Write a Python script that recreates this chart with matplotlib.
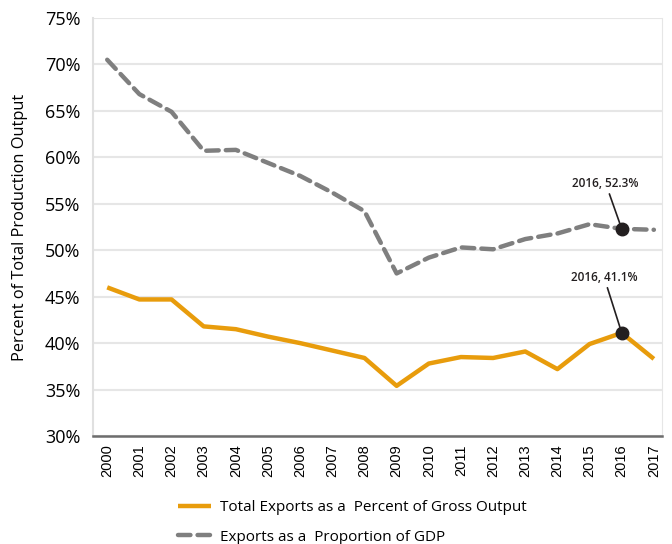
import matplotlib
matplotlib.use('Agg')
import matplotlib.pyplot as plt
from matplotlib.ticker import FuncFormatter

years = list(range(2000, 2018))
gross_output = [46.0, 44.7, 44.7, 41.8, 41.5, 40.7, 40.0, 39.2, 38.4, 35.4,
                37.8, 38.5, 38.4, 39.1, 37.2, 39.9, 41.1, 38.3]
gdp_share = [70.5, 66.8, 64.9, 60.7, 60.8, 59.4, 58.0, 56.2, 54.2, 47.5,
             49.2, 50.3, 50.1, 51.2, 51.8, 52.8, 52.3, 52.2]
labels = ['Total Exports as a  Percent of Gross Output', 'Exports as a  Proportion of GDP']

plt.rcParams['font.family'] = ['Open Sans', 'DejaVu Sans']

fig = plt.figure(figsize=(6.72, 5.44), dpi=100)
ax = fig.add_axes([0.138, 0.1985, 0.847, 0.7685])

ax.plot(years, gross_output, color='#e89c0c', lw=3.2, label=labels[0],
        solid_capstyle='butt', zorder=3)
ax.plot(years, gdp_share, color='#7f7f7f', lw=3.2, ls=(0, (2.8, 1.6)),
        label=labels[1], dash_capstyle='round', zorder=3)

# highlighted 2016 points
i16 = years.index(2016)
for vals, dx, dy in [(gdp_share, -0.5, 4.2), (gross_output, -0.55, 5.3)]:
    y = vals[i16]
    ax.plot(2016, y, 'o', color='#231f20', ms=9, zorder=4)
    ax.annotate('2016, %.1f%%' % y, xy=(2016, y), xytext=(2016 + dx, y + dy),
                ha='center', va='bottom', fontsize=8.5, fontweight='semibold',
                color='#231f20',
                arrowprops=dict(arrowstyle='-', color='#231f20', lw=1.2,
                                shrinkA=1, shrinkB=0))

ax.set_xlim(1999.55, 2017.25)
ax.set_ylim(30, 75)
ax.set_yticks(range(30, 76, 5))
ax.yaxis.set_major_formatter(FuncFormatter(lambda v, p: '%d%%' % v))
ax.set_xticks(years)
ax.set_xticklabels([str(y) for y in years], rotation=90, family='Liberation Sans',
                   fontsize=10.5)
ax.tick_params(axis='y', labelsize=13, length=0, pad=9)
ax.tick_params(axis='x', length=0, pad=6)
ax.grid(axis='y', color='#e6e6e6', lw=1.5)
ax.set_axisbelow(True)
ax.spines['top'].set_visible(False)
ax.spines['right'].set_color('#e6e6e6')
ax.spines['left'].set_color('#e0e0e0')
ax.spines['left'].set_linewidth(1.5)
ax.spines['bottom'].set_color('#6d6d6d')
ax.spines['bottom'].set_linewidth(1.8)
ax.set_ylabel('Percent of Total Production Output', fontsize=11.8, labelpad=12)

fig.legend(loc='upper left', bbox_to_anchor=(0.244, 0.106), frameon=False,
           fontsize=11, handlelength=2.15, handletextpad=0.65,
           labelspacing=0.95, borderpad=0.4)

fig.savefig('out.png', dpi=100)
